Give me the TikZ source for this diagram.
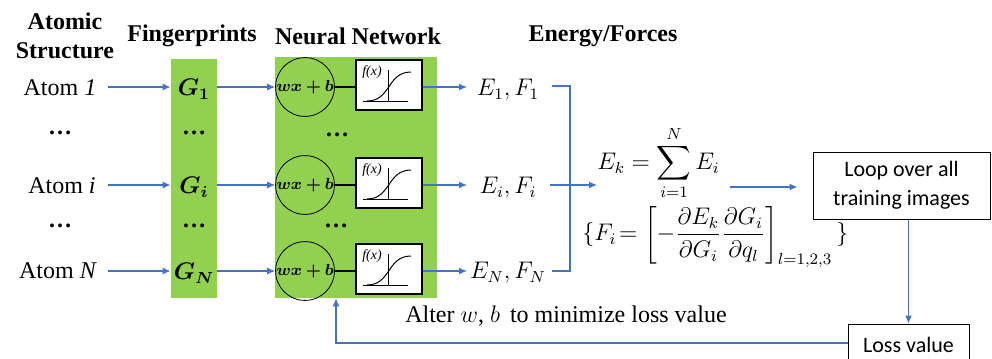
\documentclass[tikz,border=0pt]{standalone}
\usepackage{amsmath}
\usepackage{bm}
\usepackage{fontspec}
\setmainfont{Liberation Serif}
\newfontfamily\calib{Carlito}
\usetikzlibrary{arrows.meta}
\definecolor{leaf}{RGB}{146,208,80}
\definecolor{arr}{RGB}{68,114,196}
\tikzset{
  hd/.style={font=\bfseries\fontsize{12}{14.5}\selectfont, align=center},
  lbl/.style={font=\fontsize{12}{14}\selectfont},
  flow/.style={draw=arr, line width=0.6pt, -{Latex[length=4pt,width=3.5pt]}},
  bline/.style={draw=arr, line width=0.6pt},
  greenbox/.style={fill=leaf, draw=none, inner sep=0pt},
  neuron/.style={circle, draw, line width=0.4pt, minimum size=25pt, inner sep=0pt,
    font=\fontsize{8}{9}\selectfont},
  actbox/.style={draw, fill=white, line width=0.6pt, minimum width=33pt, minimum height=25pt, inner sep=0pt},
  sbox/.style={draw, line width=0.5pt, align=center, font=\calib\fontsize{11}{14.5}\selectfont},
  dotsn/.style={font=\bfseries\fontsize{12}{14}\selectfont},
  sigm/.pic={
    \draw[line width=0.5pt] (-1,-15) -- (-1,17);
    \draw[line width=0.5pt] (-26,16) -- (19,16);
    \draw[line width=0.5pt] (-22,16) .. controls (2,16) and (-2,-13) .. (22,-13);
    \node[font=\itshape\fontsize{7}{8}\selectfont, inner sep=0pt] at (-17,-13) {f(x)};
  }
}
\begin{document}
\begin{tikzpicture}[x=0.5pt,y=-0.5pt]
\useasboundingbox (0,0) rectangle (992,359);
% headings
\node[hd] (hAS) at (65,36) {Atomic\\Structure};
\node[hd] (hFP) at (192,36) {Fingerprints};
\node[hd] (hNN) at (358,36) {Neural Network};
\node[hd] (hEF) at (603,36) {Energy/Forces};
% green columns
\node[greenbox, minimum width=23pt, minimum height=119.5pt] (fp) at (194,178.5) {};
\node[greenbox, minimum width=81pt, minimum height=120.5pt] (nn) at (356,177.5) {};
% atoms
\node[lbl] (a1) at (60,88) {Atom \textit{1}};
\node[lbl] (ai) at (62,186) {Atom \textit{i}};
\node[lbl] (aN) at (58,271) {Atom \textit{N}};
\node[dotsn] (ad1) at (60,133) {\dots};
\node[dotsn] (ad2) at (60,226) {\dots};
% fingerprints
\node[lbl] (g1) at (194,89) {$\bm{G_1}$};
\node[lbl] (gi) at (194,187) {$\bm{G_i}$};
\node[lbl] (gN) at (194,273) {$\bm{G_N}$};
\node[dotsn] (gd1) at (194,133) {\dots};
\node[dotsn] (gd2) at (194,226) {\dots};
% neurons
\node[neuron] (c1) at (305,87) {$\bm{wx+b}$};
\node[neuron] (ci) at (305,185) {$\bm{wx+b}$};
\node[neuron] (cN) at (305,271) {$\bm{wx+b}$};
\node[actbox] (s1) at (389,85) {};
\node[actbox] (si) at (389,183) {};
\node[actbox] (sN) at (389,269) {};
\pic at (s1.center) {sigm};
\pic at (si.center) {sigm};
\pic at (sN.center) {sigm};
\draw[line width=1.1pt] (c1.east) -- (c1.east -| s1.west);
\draw[line width=1.1pt] (ci.east) -- (ci.east -| si.west);
\draw[line width=1.1pt] (cN.east) -- (cN.east -| sN.west);
\node[dotsn] (nd1) at (337,135) {\dots};
\node[dotsn] (nd2) at (336,226) {\dots};
% energies
\node[lbl] (e1) at (508,90) {$E_1, F_1$};
\node[lbl] (ei) at (508,188) {$E_i, F_i$};
\node[lbl] (eN) at (508,273) {$E_N, F_N$};
% arrows atom -> G
\draw[flow] (108,87) -- (fp.west |- 0,87);
\draw[flow] (108,185) -- (fp.west |- 0,185);
\draw[flow] (108,271) -- (fp.west |- 0,271);
% G -> neuron
\draw[flow] (fp.east |- 0,87) -- (c1.west);
\draw[flow] (fp.east |- 0,185) -- (ci.west);
\draw[flow] (fp.east |- 0,271) -- (cN.west);
% act -> E
\draw[flow] (s1.east |- 0,87) -- (467,87);
\draw[flow] (si.east |- 0,185) -- (467,185);
\draw[flow] (sN.east |- 0,271) -- (467,271);
% bracket
\coordinate (bt) at (552,86);
\coordinate (bb) at (552,271);
\draw[bline] (bt) -- (570,86) -- (570,271) -- (bb);
% formulas
\node[lbl, anchor=west, inner sep=0pt] (ek) at (597,163) {$\displaystyle E_k=\sum_{i=1}^{N}E_i$};
\node[lbl, anchor=west, inner sep=0pt] (fi) at (582,237) {$\displaystyle \{F_i\!=\left[-\frac{\partial E_k}{\partial G_i}\frac{\partial G_i}{\partial q_l}\right]_{l=1,2,3}\,\}$};
\coordinate (mid) at (550,185);
\draw[flow] (mid) -- (597,185);
% loop box
\node[sbox, minimum width=88.5pt, minimum height=33.5pt] (loop) at (901.5,185.5) {Loop over all\\training images};
\node[sbox, minimum width=60.5pt, minimum height=21pt] (loss) at (908.5,345) {Loss value};
\coordinate (fo) at (730,187);
\draw[flow, shorten >=7.5pt] (fo) -- (loop.west |- fo);
\draw[flow] (loss.north |- loop.south) -- (loss.north);
\coordinate (fb) at (336,343);
\draw[flow] (loss.west |- fb) -- (fb) -- (fb |- nn.south);
\node[lbl] (alt) at (566,316) {Alter $w$, $b$\, to minimize loss value};
\end{tikzpicture}
\end{document}
